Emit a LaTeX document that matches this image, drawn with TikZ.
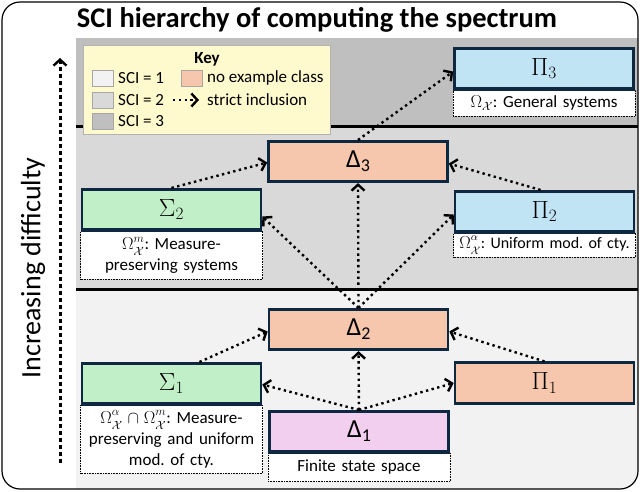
\documentclass[tikz,border=0pt]{standalone}
\usepackage{fontspec}
\setmainfont{Carlito}
\usetikzlibrary{arrows.meta}
\frenchspacing
\definecolor{sciA}{RGB}{242,242,242}
\definecolor{sciB}{RGB}{217,217,217}
\definecolor{sciC}{RGB}{191,191,191}
\definecolor{salmon}{RGB}{246,198,173}
\definecolor{mint}{RGB}{193,240,200}
\definecolor{sky}{RGB}{193,228,245}
\definecolor{lilac}{RGB}{242,206,239}
\definecolor{boxline}{RGB}{14,40,65}
\definecolor{keyfill}{RGB}{255,250,205}
\newcommand{\capfont}{\fontsize{17}{21}\selectfont}
\newcommand{\keyfont}{\fontsize{17}{19}\selectfont}
\newcommand{\boxfont}{\fontsize{26}{28}\selectfont}
\newcommand{\Dl}[1]{\textup{Δ}\raisebox{-0.3ex}{\fontsize{18}{18}\selectfont #1}}
\newcommand{\Om}[1]{\Omega^{\raisebox{1.5pt}{$\scriptstyle #1$}}_{\raisebox{-1.5pt}{$\scriptstyle\mathcal{X}$}}}
\tikzset{
  box/.style={draw=boxline, line width=2.6pt, minimum width=179pt, minimum height=40.5pt, inner sep=0pt, font=\boxfont},
  capbox/.style={draw=black, densely dotted, line width=0.6pt, fill=white, text width=178pt, minimum width=182pt, align=center, inner sep=2pt, anchor=north, font=\capfont},
  inc/.style={line width=2.4pt, dash pattern=on 2.4pt off 3.4pt, -{Straight Barb[length=6pt,width=13pt,line width=2.4pt]}},
  swatch/.style={draw=gray!70, line width=0.6pt, minimum width=21pt, minimum height=16pt, inner sep=0pt},
  keytext/.style={anchor=west, font=\keyfont, inner sep=0pt}
}
\begin{document}
\begin{tikzpicture}[x=1pt,y=-1pt]
\useasboundingbox (0,0) rectangle (640,491);
\fill[white] (0,0) rectangle (640,491);
% bands
\begin{scope}
\clip[rounded corners=18pt] (2,2) rectangle (638,489);
\fill[sciC] (76,38) rectangle (640,126);
\fill[sciB] (76,126) rectangle (640,289);
\fill[sciA] (76,289) rectangle (640,491);
\end{scope}
\draw[line width=3pt] (76,126) -- (638,126);
\draw[line width=3pt] (76,289) -- (638,289);
\draw[line width=1.2pt, rounded corners=18pt] (2,2) rectangle (638,489);
% title
\node[font=\fontsize{28.5}{30}\selectfont\bfseries] (title) at (317,20) {SCI hierarchy of computing the spectrum};
% difficulty
\node[font=\fontsize{28}{30}\selectfont, rotate=90] (diff) at (33,268) {Increasing difficulty};
\coordinate (da) at (60,463);
\coordinate (db) at (60,58);
\draw[line width=3pt, dash pattern=on 4pt off 3pt, -{Straight Barb[length=6pt,width=13pt,line width=2.4pt]}] (da) -- (db);
% key
\node[draw=gray!60, line width=0.6pt, fill=keyfill, anchor=north west, minimum width=247pt, minimum height=89pt, inner sep=0pt] (key) at (83,45) {};
\node[font=\keyfont\bfseries] (keyt) at (207,59) {Key};
\node[swatch, fill=sciA] (sw1) at (102.5,78) {};
\node[keytext] (t1) at (118,78) {SCI = 1};
\node[swatch, fill=sciB] (sw2) at (102.5,100) {};
\node[keytext] (t2) at (118,100) {SCI = 2};
\node[swatch, fill=sciC] (sw3) at (102.5,121) {};
\node[keytext] (t3) at (118,121) {SCI = 3};
\node[swatch, fill=salmon] (sw4) at (191.5,78) {};
\node[keytext] (t4) at (207,78) {no example class};
\coordinate (ka) at (173,100);
\coordinate (kb) at (199,100);
\draw[inc] (ka) -- (kb);
\node[keytext] (t5) at (207,100) {strict inclusion};
% main boxes
\node[box, fill=sky] (P3) at (544,68.5) {$\Pi_3$};
\node[box, fill=salmon] (D3) at (358,161.5) {\Dl{3}};
\node[box, fill=mint] (S2) at (171.5,209.5) {$\Sigma_2$};
\node[box, fill=sky] (P2) at (544.5,211.5) {$\Pi_2$};
\node[box, fill=salmon] (D2) at (358.5,329.5) {\Dl{2}};
\node[box, fill=mint] (S1) at (171.5,383.5) {$\Sigma_1$};
\node[box, fill=salmon] (P1) at (544.5,383) {$\Pi_1$};
\node[box, fill=lilac] (D1) at (359,431.5) {\Dl{1}};
% captions
\node[capbox, minimum height=26pt] (P3c) at (544,90) {$\Omega_{\mathcal{X}}$: General systems};
\node[capbox, minimum height=48pt] (S2c) at (171.5,231) {$\Om{m}$: Measure-\\preserving systems};
\node[capbox, minimum height=24pt, font=\fontsize{16}{19}\selectfont] (P2c) at (544.5,233) {$\Om{\alpha}$: Uniform mod. of cty.};
\node[capbox, minimum height=68pt] (S1c) at (171.5,405) {$\Om{\alpha}\cap\Om{m}$: Measure-\\preserving and uniform\\mod. of cty.};
\node[capbox, minimum height=28pt] (D1c) at (359,453) {Finite state space};
% redraw box borders over captions
\foreach \n in {P3,S2,P2,S1,D1}{\draw[boxline, line width=2.6pt] (\n.south west) -- (\n.south east);}
% arrows
\draw[inc] (D3.north) -- ([yshift=-3pt]P3.west);
\draw[inc] (S2.north) -- ([yshift=-1pt]D3.west);
\draw[inc] ([xshift=-4pt]P2.north) -- ([yshift=-2pt]D3.east);
\draw[inc] (D2.north) -- (D3.south);
\draw[inc] (D2.north) -- ([yshift=-7pt]S2.east);
\draw[inc] (D2.north) -- ([yshift=-3pt]P2.west);
\draw[inc] ([xshift=28pt]S1.north) -- ([yshift=-2pt]D2.west);
\draw[inc] (P1.north) -- ([yshift=-2pt]D2.east);
\draw[inc] (D1.north) -- (D2.south);
\draw[inc] (D1.north) -- ([yshift=-1pt]S1.east);
\draw[inc] (D1.north) -- (P1.west);
\end{tikzpicture}
\end{document}
